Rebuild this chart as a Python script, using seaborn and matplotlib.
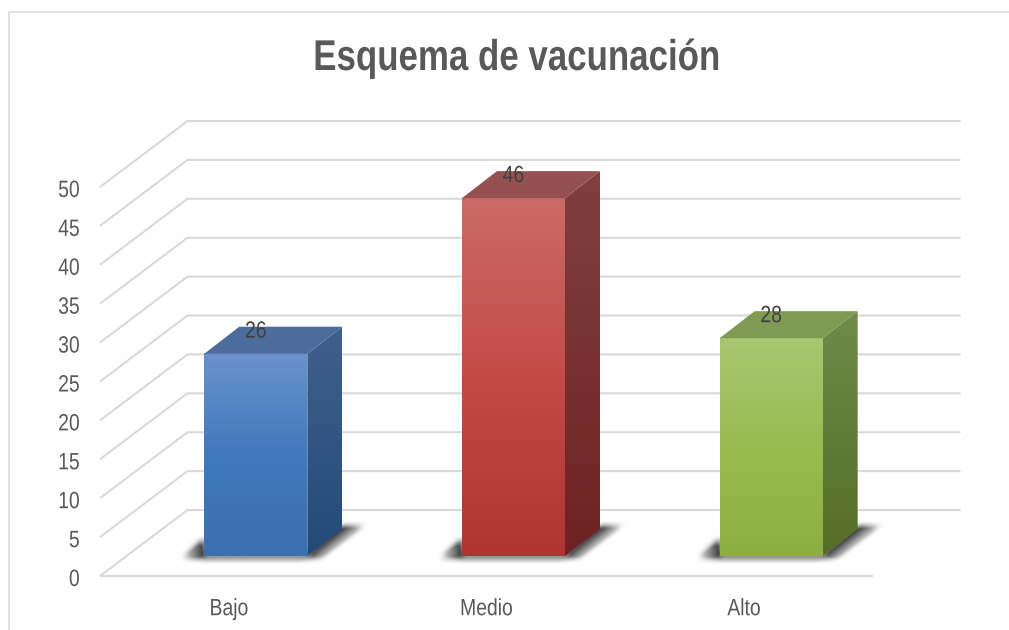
import numpy as np
import pandas as pd
import matplotlib
matplotlib.use("Agg")
import matplotlib.pyplot as plt
import matplotlib.patheffects as pe
import seaborn as sns
from matplotlib.colors import LinearSegmentedColormap
from matplotlib.lines import Line2D
from matplotlib.patches import Polygon
from matplotlib.path import Path
from matplotlib.transforms import Affine2D

# ---- data ----
categories = ["Bajo", "Medio", "Alto"]
values = [26, 46, 28]
yticks = [0, 5, 10, 15, 20, 25, 30, 35, 40, 45, 50]
title = "Esquema de vacunación"

# ---- colours ----
front_colors = [["#3A6FB0", "#4079BE", "#6B92CB"],
                ["#B03432", "#C44A47", "#CB6B67"],
                ["#8DAE42", "#99BB50", "#A9C671"]]
side_colors = [["#234A78", "#40608C"], ["#6E2222", "#80403F"], ["#546E26", "#6F8A4A"]]
top_colors = ["#4C6C9C", "#955150", "#7F9A52"]
grid_color = "#D9D9D9"
text_color = "#595959"
label_color = "#404040"

sns.set_theme(style="white")
plt.rcParams["font.family"] = ["Liberation Sans", "DejaVu Sans"]


class Squeeze(pe.AbstractPathEffect):
    """Narrows the glyphs of a real text about its right edge or centre."""

    def __init__(self, sx=0.82, anchor="center", dy=0.0):
        super().__init__()
        self.sx, self.anchor, self.dy = sx, anchor, dy

    def draw_path(self, renderer, gc, tpath, affine, rgbFace=None):
        ext = tpath.get_extents()
        c = ext.x1 if self.anchor == "right" else (ext.x0 + ext.x1) / 2
        t = Affine2D().translate(-c, 0).scale(self.sx, 1).translate(c, 0) + affine + Affine2D().translate(0, self.dy)
        renderer.draw_path(gc, tpath, t, rgbFace)


W, H = 1009, 630
fig = plt.figure(figsize=(W / 100, H / 100), dpi=100, facecolor="white")
ax = fig.add_axes([100 / W, (H - 576) / H, 773 / W, 389 / H])

df = pd.DataFrame({"cat": categories, "val": values})
sns.barplot(data=df, x="cat", y="val", hue="cat", palette=[c[1] for c in front_colors],
            width=103 / (773 / 3), legend=False, ax=ax, saturation=1)

ax.set_xlim(-0.5, 2.5)
ax.set_ylim(0, 50)
px_x = 3 / 773        # data units per pixel, horizontal
px_y = 50 / 389       # data units per pixel, vertical

# depth vector of the floor, in data units
DX, DY = 87.5 * px_x, 66 * px_y
# bar footprint inside the floor depth
OX, OY = 27 * px_x, 20 * px_y
BX, BY = 35 * px_x, 27 * px_y

# wall, floor and diagonal lines
lw = 1.5
for t in yticks:
    ax.plot([-0.5, -0.5 + DX, 2.5 + DX], [t, t + DY, t + DY], color=grid_color, lw=lw,
            clip_on=False, zorder=1, solid_joinstyle="miter", solid_capstyle="butt")
ax.plot([-0.5, 2.5], [0, 0], color=grid_color, lw=lw, clip_on=False, zorder=1, solid_capstyle="butt")


def gradient(x0, x1, y0, y1, colors, clip_xy=None, zorder=4):
    cmap = LinearSegmentedColormap.from_list("g", colors)
    im = ax.imshow(np.linspace(0, 1, 256)[:, None], cmap=cmap, origin="lower", aspect="auto",
                   extent=(x0, x1, y0, y1), interpolation="bilinear", zorder=zorder)
    im.set_clip_box(fig.bbox)
    if clip_xy is not None:
        im.set_clip_path(Polygon(clip_xy, closed=True, transform=ax.transData))
    else:
        im.set_clip_on(False)
    return im


def blur(a, r):
    k = np.ones(2 * r + 1) / (2 * r + 1)
    for _ in range(2):
        a = np.apply_along_axis(lambda v: np.convolve(v, k, mode="same"), 0, a)
        a = np.apply_along_axis(lambda v: np.convolve(v, k, mode="same"), 1, a)
    return a


def shadow(x0, x1):
    # soft cast shadow on the floor, built around the bar footprint
    wpx = (x1 - x0) / px_x
    xs = np.arange(-35, wpx + 80)
    ys = np.arange(-12, 45)
    gx, gy = np.meshgrid(xs, ys)
    poly = Path([(-26, -3), (0, 17), (0, 0), (wpx, 0), (wpx + 35, 29), (wpx + 60, 30), (wpx + 15, -3)])
    mask = poly.contains_points(np.c_[gx.ravel(), gy.ravel()]).reshape(gx.shape).astype(float)
    a = blur(mask, 3)
    right = wpx + gy * 35 / 28
    d_right = np.maximum(gx - right, 0)
    d_left = np.maximum(-gx, 0)
    a = np.clip(a * 1.35, 0, 1) * np.clip(1.0 - 0.85 * d_right / 22 - 0.9 * d_left / 22, 0.03, 1)
    rgba = np.zeros(a.shape + (4,))
    rgba[..., :3] = 0.2
    rgba[..., 3] = a
    ext = (x0 + xs[0] * px_x, x0 + xs[-1] * px_x, OY + ys[0] * px_y, OY + ys[-1] * px_y)
    im = ax.imshow(rgba, origin="lower", aspect="auto", extent=ext, interpolation="bilinear", zorder=2)
    im.set_clip_on(False)


for i, patch in enumerate(ax.patches[:len(values)]):
    v = values[i]
    x0 = patch.get_x() + OX
    x1 = x0 + patch.get_width()
    patch.set_x(x0)
    patch.set_y(OY)
    patch.set_linewidth(0)
    patch.set_clip_on(False)
    patch.set_zorder(3)
    y0, y1 = OY, OY + v
    shadow(x0, x1)
    # front face
    gradient(x0, x1, y0, y1, front_colors[i])
    # side face
    side = [(x1, y0), (x1 + BX, y0 + BY), (x1 + BX, y1 + BY), (x1, y1)]
    gradient(x1, x1 + BX, y0, y1 + BY, side_colors[i], clip_xy=side)
    # top face
    ax.add_patch(Polygon([(x0, y1), (x1, y1), (x1 + BX, y1 + BY), (x0 + BX, y1 + BY)],
                         closed=True, facecolor=top_colors[i], edgecolor="none",
                         clip_on=False, zorder=4))
    ax.annotate(str(v), xy=((x0 + x1) / 2, y1), xytext=(0, 22 * 0.72), textcoords="offset points",
                ha="center", va="center", fontsize=17, color=label_color, zorder=6,
                annotation_clip=False, path_effects=[Squeeze(0.82, "center")])

ax.set_xlim(-0.5, 2.5)
ax.set_ylim(0, 50)
ax.set_yticks(yticks)
ax.set_xlabel("")
ax.set_ylabel("")
ax.tick_params(axis="y", length=0, pad=14.5, labelsize=17, labelcolor=text_color)
ax.tick_params(axis="x", length=0, pad=16, labelsize=17, labelcolor=text_color)
for lab in ax.get_yticklabels():
    lab.set_path_effects([Squeeze(0.82, "right", dy=-1.5)])
for lab in ax.get_xticklabels():
    lab.set_path_effects([Squeeze(0.82, "center")])
ax.patch.set_visible(False)
sns.despine(ax=ax, left=True, bottom=True)

# chart frame (open at right and bottom)
fig.add_artist(Line2D([9 / W, 9 / W, 1], [0, 1 - 12 / H, 1 - 12 / H], color=grid_color, lw=1.1))

fig.text(516 / W, 1 - 59 / H, title, ha="center", va="center", fontsize=31, fontweight="bold",
         color=text_color, path_effects=[Squeeze(0.81, "center")])

fig.savefig("out.png", dpi=100, facecolor="white")
